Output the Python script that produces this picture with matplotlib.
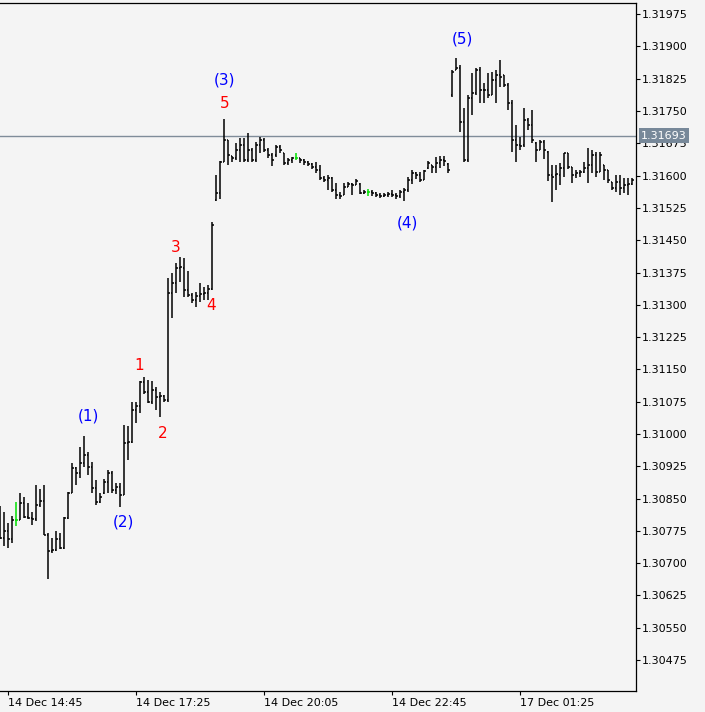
import matplotlib
matplotlib.use("Agg")
import matplotlib.pyplot as plt
import numpy as np

# 5 minute bars, 14 Dec 14:35 onwards (weekend gap after bar 112)
opens = [1.30770, 1.30758, 1.30774, 1.30756, 1.30800, 1.30800, 1.30840, 1.30807, 1.30805, 1.30802,
         1.30835, 1.30844, 1.30765, 1.30728, 1.30730, 1.30756, 1.30735, 1.30805, 1.30863, 1.30921,
         1.30909, 1.30932, 1.30951, 1.30923, 1.30874, 1.30842, 1.30862, 1.30888, 1.30909, 1.30870,
         1.30877, 1.30858, 1.30979, 1.30981, 1.31055, 1.31065, 1.31121, 1.31097, 1.31074, 1.31102,
         1.31086, 1.31088, 1.31079, 1.31327, 1.31350, 1.31385, 1.31385, 1.31334, 1.31323, 1.31311,
         1.31320, 1.31325, 1.31327, 1.31336, 1.31543, 1.31559, 1.31631, 1.31682, 1.31645, 1.31640,
         1.31659, 1.31671, 1.31636, 1.31659, 1.31636, 1.31671, 1.31682, 1.31659, 1.31648, 1.31648,
         1.31666, 1.31652, 1.31629, 1.31636, 1.31641, 1.31641, 1.31636, 1.31631, 1.31627, 1.31620,
         1.31613, 1.31594, 1.31590, 1.31594, 1.31566, 1.31555, 1.31555, 1.31573, 1.31580, 1.31578,
         1.31580, 1.31559, 1.31562, 1.31562, 1.31559, 1.31555, 1.31552, 1.31555, 1.31557, 1.31555,
         1.31552, 1.31562, 1.31566, 1.31590, 1.31606, 1.31601, 1.31590, 1.31617, 1.31624, 1.31620,
         1.31629, 1.31636, 1.31627, 1.31787, 1.31845, 1.31850, 1.31724, 1.31636, 1.31780, 1.31791,
         1.31845, 1.31798, 1.31798, 1.31787, 1.31822, 1.31833, 1.31833, 1.31810, 1.31768, 1.31682,
         1.31671, 1.31671, 1.31729, 1.31717, 1.31675, 1.31659, 1.31678, 1.31655, 1.31601, 1.31601,
         1.31601, 1.31617, 1.31652, 1.31620, 1.31601, 1.31606, 1.31608, 1.31617, 1.31624, 1.31648,
         1.31608, 1.31624, 1.31613, 1.31585, 1.31571, 1.31585, 1.31571, 1.31578, 1.31580]
highs = [1.30833, 1.30819, 1.30793, 1.30809, 1.30842, 1.30863, 1.30854, 1.30840, 1.30819, 1.30881,
         1.30872, 1.30881, 1.30770, 1.30758, 1.30774, 1.30770, 1.30807, 1.30865, 1.30932, 1.30923,
         1.30970, 1.30995, 1.30958, 1.30935, 1.30893, 1.30863, 1.30895, 1.30916, 1.30914, 1.30886,
         1.30886, 1.31021, 1.31019, 1.31074, 1.31074, 1.31123, 1.31132, 1.31125, 1.31123, 1.31109,
         1.31097, 1.31090, 1.31362, 1.31374, 1.31397, 1.31411, 1.31408, 1.31378, 1.31327, 1.31329,
         1.31350, 1.31341, 1.31346, 1.31492, 1.31601, 1.31634, 1.31731, 1.31682, 1.31646, 1.31675,
         1.31687, 1.31687, 1.31699, 1.31664, 1.31678, 1.31689, 1.31687, 1.31664, 1.31652, 1.31671,
         1.31671, 1.31652, 1.31641, 1.31643, 1.31652, 1.31641, 1.31638, 1.31634, 1.31629, 1.31631,
         1.31624, 1.31599, 1.31601, 1.31596, 1.31583, 1.31562, 1.31583, 1.31585, 1.31583, 1.31592,
         1.31583, 1.31566, 1.31569, 1.31566, 1.31562, 1.31559, 1.31559, 1.31562, 1.31566, 1.31559,
         1.31566, 1.31571, 1.31596, 1.31613, 1.31608, 1.31608, 1.31613, 1.31634, 1.31624, 1.31643,
         1.31645, 1.31645, 1.31629, 1.31845, 1.31873, 1.31857, 1.31757, 1.31787, 1.31838, 1.31850,
         1.31852, 1.31815, 1.31838, 1.31840, 1.31845, 1.31868, 1.31833, 1.31815, 1.31775, 1.31717,
         1.31689, 1.31757, 1.31733, 1.31752, 1.31678, 1.31682, 1.31682, 1.31657, 1.31624, 1.31624,
         1.31629, 1.31652, 1.31652, 1.31620, 1.31613, 1.31613, 1.31631, 1.31664, 1.31659, 1.31655,
         1.31655, 1.31624, 1.31613, 1.31585, 1.31601, 1.31601, 1.31594, 1.31594, 1.31594]
lows = [1.30756, 1.30740, 1.30735, 1.30747, 1.30786, 1.30800, 1.30805, 1.30802, 1.30789, 1.30798,
        1.30830, 1.30765, 1.30663, 1.30723, 1.30728, 1.30733, 1.30733, 1.30802, 1.30863, 1.30881,
        1.30898, 1.30923, 1.30905, 1.30863, 1.30835, 1.30840, 1.30860, 1.30863, 1.30863, 1.30860,
        1.30830, 1.30858, 1.30939, 1.30979, 1.31025, 1.31049, 1.31093, 1.31072, 1.31069, 1.31056,
        1.31039, 1.31074, 1.31074, 1.31269, 1.31327, 1.31353, 1.31318, 1.31318, 1.31304, 1.31295,
        1.31306, 1.31311, 1.31311, 1.31334, 1.31541, 1.31545, 1.31631, 1.31624, 1.31631, 1.31636,
        1.31631, 1.31631, 1.31631, 1.31631, 1.31631, 1.31652, 1.31655, 1.31641, 1.31622, 1.31643,
        1.31652, 1.31624, 1.31624, 1.31629, 1.31636, 1.31629, 1.31624, 1.31622, 1.31615, 1.31606,
        1.31590, 1.31585, 1.31566, 1.31562, 1.31545, 1.31545, 1.31555, 1.31573, 1.31555, 1.31578,
        1.31557, 1.31557, 1.31552, 1.31552, 1.31550, 1.31548, 1.31550, 1.31550, 1.31550, 1.31545,
        1.31548, 1.31541, 1.31562, 1.31580, 1.31592, 1.31585, 1.31590, 1.31615, 1.31606, 1.31606,
        1.31617, 1.31622, 1.31606, 1.31782, 1.31845, 1.31701, 1.31631, 1.31631, 1.31740, 1.31787,
        1.31768, 1.31768, 1.31780, 1.31787, 1.31768, 1.31805, 1.31805, 1.31752, 1.31655, 1.31631,
        1.31659, 1.31666, 1.31705, 1.31675, 1.31631, 1.31659, 1.31638, 1.31587, 1.31538, 1.31566,
        1.31578, 1.31596, 1.31615, 1.31583, 1.31594, 1.31596, 1.31606, 1.31583, 1.31606, 1.31596,
        1.31608, 1.31590, 1.31583, 1.31566, 1.31562, 1.31555, 1.31559, 1.31555, 1.31578]
closes = [1.30758, 1.30774, 1.30756, 1.30800, 1.30800, 1.30840, 1.30807, 1.30805, 1.30802, 1.30835,
          1.30844, 1.30765, 1.30728, 1.30730, 1.30756, 1.30735, 1.30805, 1.30863, 1.30921, 1.30909,
          1.30932, 1.30951, 1.30923, 1.30874, 1.30842, 1.30854, 1.30888, 1.30909, 1.30870, 1.30877,
          1.30858, 1.30979, 1.30981, 1.31055, 1.31065, 1.31121, 1.31097, 1.31074, 1.31102, 1.31086,
          1.31088, 1.31079, 1.31327, 1.31350, 1.31385, 1.31388, 1.31334, 1.31323, 1.31311, 1.31320,
          1.31325, 1.31327, 1.31336, 1.31485, 1.31559, 1.31631, 1.31682, 1.31648, 1.31640, 1.31659,
          1.31671, 1.31636, 1.31659, 1.31636, 1.31671, 1.31682, 1.31659, 1.31648, 1.31636, 1.31666,
          1.31659, 1.31629, 1.31636, 1.31641, 1.31641, 1.31636, 1.31631, 1.31627, 1.31620, 1.31613,
          1.31594, 1.31590, 1.31594, 1.31566, 1.31555, 1.31553, 1.31573, 1.31580, 1.31578, 1.31587,
          1.31559, 1.31562, 1.31562, 1.31559, 1.31555, 1.31552, 1.31555, 1.31557, 1.31555, 1.31552,
          1.31562, 1.31566, 1.31590, 1.31606, 1.31601, 1.31590, 1.31610, 1.31629, 1.31620, 1.31629,
          1.31636, 1.31634, 1.31613, 1.31840, 1.31850, 1.31724, 1.31636, 1.31780, 1.31791, 1.31845,
          1.31798, 1.31800, 1.31787, 1.31822, 1.31833, 1.31830, 1.31810, 1.31768, 1.31682, 1.31671,
          1.31668, 1.31729, 1.31717, 1.31682, 1.31659, 1.31678, 1.31659, 1.31601, 1.31598, 1.31604,
          1.31617, 1.31652, 1.31620, 1.31601, 1.31606, 1.31608, 1.31617, 1.31624, 1.31648, 1.31608,
          1.31648, 1.31613, 1.31590, 1.31571, 1.31585, 1.31571, 1.31578, 1.31580, 1.31590]

bid_price = 1.31693
price_ticks = [1.30475, 1.30550, 1.30625, 1.30700, 1.30775, 1.30850, 1.30925, 1.31000,
               1.31075, 1.31150, 1.31225, 1.31300, 1.31375, 1.31450, 1.31525, 1.31600,
               1.31675, 1.31750, 1.31825, 1.31900, 1.31975]
time_bars = [2, 34, 66, 98, 130]
time_labels = ["14 Dec 14:45", "14 Dec 17:25", "14 Dec 20:05", "14 Dec 22:45", "17 Dec 01:25"]

# wave marks: bar, anchor (high/low), text
waves = [(21, "high", "(1)"), (30, "low", "(2)"), (56, "high", "(3)"),
         (101, "low", "(4)"), (114, "high", "(5)")]
sub_waves = [(35, "high", "1"), (40, "low", "2"), (44, "high", "3"),
             (52, "low", "4"), (56, "high", "5")]
# label offsets from the anchor, in pixels
wave_offs = [(4, 20), (3, -15), (0, 39), (3, -22), (6, 19)]
sub_offs = [(-1, 16), (2, -16), (-1, 16), (3, -5), (0, 16)]

bg = "#f4f4f4"
fig = plt.figure(figsize=(7.05, 7.12), dpi=100, facecolor=bg)
ax = fig.add_axes([0, 1 - 691 / 712, 636 / 705, 688 / 712], facecolor=bg)

o = np.array(opens)
h = np.array(highs)
l = np.array(lows)
c = np.array(closes)
x = np.arange(len(o))
cols = ["#00e000" if oo == cc else "black" for oo, cc in zip(o, c)]

ax.axhline(bid_price, color="#7f8c99", lw=1.0, zorder=1)
ax.vlines(x, l, h, colors=cols, lw=1.1, zorder=2)
ax.hlines(o, x - 0.45, x, colors=cols, lw=1.1, zorder=2)
ax.hlines(c, x, x + 0.45, colors=cols, lw=1.1, zorder=2)

ax.set_xlim(-0.075, 158.9)
ax.set_ylim(1.30403, 1.32001)

ax.yaxis.tick_right()
ax.set_yticks(price_ticks)
ax.set_yticklabels(["%.5f" % p for p in price_ticks])
ax.set_xticks(time_bars)
ax.set_xticklabels(time_labels, ha="left")
ax.tick_params(axis="both", direction="out", length=3, width=0.8, labelsize=8,
               colors="black", pad=1.5)
ax.tick_params(axis="x", pad=2)
ax.spines["left"].set_visible(False)
for s in ["top", "right", "bottom"]:
    ax.spines[s].set_linewidth(0.9)

ax.annotate("%.5f" % bid_price, xy=(1, bid_price), xycoords=("axes fraction", "data"),
            xytext=(5, 0), textcoords="offset pixels", ha="left", va="center",
            fontsize=8, color="white", annotation_clip=False,
            bbox=dict(boxstyle="square,pad=0.2", fc="#778899", ec="none"))

def mark(items, offs, color):
    for (b, side, txt), (dx, dy) in zip(items, offs):
        y = h[b] if side == "high" else l[b]
        ax.annotate(txt, xy=(b, y), xytext=(dx, dy), textcoords="offset pixels",
                    ha="center", va="center", fontsize=11, color=color)

mark(waves, wave_offs, "#0000ff")
mark(sub_waves, sub_offs, "#ff0000")

fig.savefig("out.png", dpi=100, facecolor=bg)
